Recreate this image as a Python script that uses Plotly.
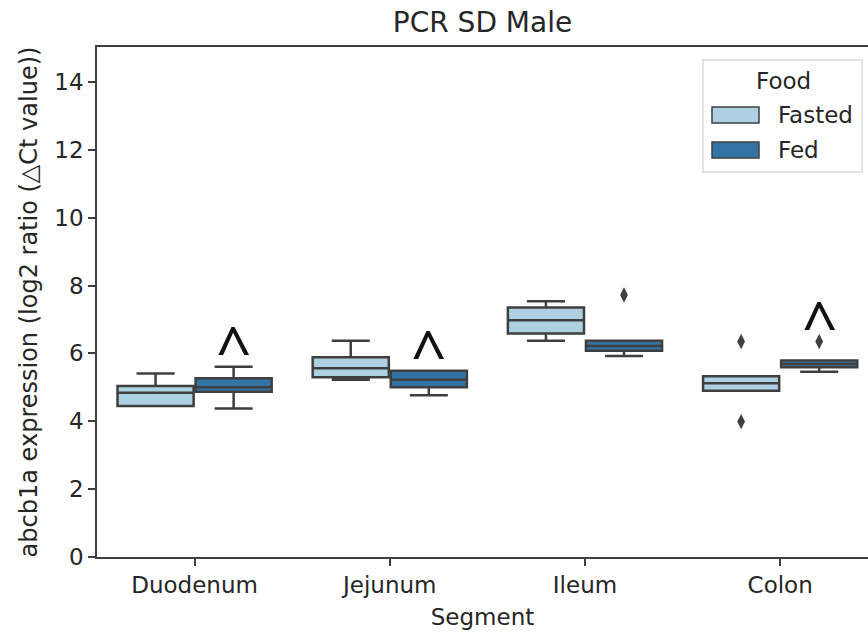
import plotly.graph_objects as go

# Intestinal segments on the x axis and the two feeding states
segments = ["Duodenum", "Jejunum", "Ileum", "Colon"]
food_groups = ["Fasted", "Fed"]

# Box statistics (abcb1a ΔCt, log2 ratio) per segment
fasted_lowerfence = [4.45, 5.22, 6.37, 4.90]
fasted_q1 = [4.45, 5.30, 6.59, 4.90]
fasted_median = [4.84, 5.56, 6.98, 5.12]
fasted_q3 = [5.04, 5.89, 7.35, 5.33]
fasted_upperfence = [5.41, 6.37, 7.54, 5.33]

fed_lowerfence = [4.38, 4.77, 5.92, 5.46]
fed_q1 = [4.87, 5.00, 6.08, 5.59]
fed_median = [5.00, 5.22, 6.22, 5.69]
fed_q3 = [5.27, 5.49, 6.37, 5.79]
fed_upperfence = [5.61, 5.49, 6.37, 5.79]

# Points beyond the whiskers
fasted_outlier_segment = ["Colon", "Colon"]
fasted_outlier_value = [6.35, 3.99]
fed_outlier_segment = ["Ileum", "Colon"]
fed_outlier_value = [7.72, 6.35]

# Fed groups flagged with a caret
flagged_segments = ["Duodenum", "Jejunum", "Colon"]
flag_symbol = "^"

y_ticks = [0, 2, 4, 6, 8, 10, 12, 14]

fill_colors = {"Fasted": "#aed0e3", "Fed": "#3274a3"}
group_offset = {"Fasted": -0.2, "Fed": 0.2}
line_color = "#3f3f3f"
text_color = "#262626"

stats = {
    "Fasted": (fasted_lowerfence, fasted_q1, fasted_median, fasted_q3, fasted_upperfence),
    "Fed": (fed_lowerfence, fed_q1, fed_median, fed_q3, fed_upperfence),
}
outliers = {
    "Fasted": (fasted_outlier_segment, fasted_outlier_value),
    "Fed": (fed_outlier_segment, fed_outlier_value),
}

fig = go.Figure()

for group in food_groups:
    lo, q1, med, q3, hi = stats[group]
    xs = [i + group_offset[group] for i in range(len(segments))]
    fig.add_trace(go.Box(
        name=group,
        x=xs,
        lowerfence=lo, q1=q1, median=med, q3=q3, upperfence=hi,
        width=0.39,
        whiskerwidth=0.5,
        fillcolor=fill_colors[group],
        line=dict(color=line_color, width=2.5),
        boxpoints=False,
        hoverinfo="skip",
        showlegend=False,
    ))

for group in food_groups:
    seg, val = outliers[group]
    fig.add_trace(go.Scatter(
        x=[segments.index(s) + group_offset[group] for s in seg],
        y=val,
        mode="markers",
        marker=dict(symbol="diamond-tall", size=11, color=line_color),
        showlegend=False,
        hoverinfo="skip",
    ))

# Caret above the top of each flagged Fed group
for s in flagged_segments:
    i = segments.index(s)
    top = max([fed_upperfence[i]] + [v for g, v in zip(fed_outlier_segment, fed_outlier_value) if g == s])
    fig.add_annotation(
        x=i + group_offset["Fed"], y=top + 0.55,
        text=flag_symbol, showarrow=False,
        font=dict(family="Noto Sans", size=62, color="#111111"),
        xanchor="center", yanchor="middle",
    )

# Legend drawn in pixel-aligned paper coordinates
W, H = 868, 633
L, R, T, B = 97, 0, 47, 76
pw, ph = W - L - R, H - T - B


def px(xp):
    return (xp - L) / pw


def py(yp):
    return (H - B - yp) / ph


fig.add_shape(type="rect", xref="paper", yref="paper",
              x0=px(703), x1=px(862), y0=py(172), y1=py(60),
              line=dict(color="#dadada", width=1.5), fillcolor="rgba(255,255,255,0.8)", layer="above")
fig.add_annotation(xref="paper", yref="paper", x=px(783), y=py(81), text="Food", showarrow=False,
                   xanchor="center", yanchor="middle", font=dict(size=23, color=text_color))
for k, group in enumerate(food_groups):
    yc = 115 + 35 * k
    fig.add_shape(type="rect", xref="paper", yref="paper",
                  x0=px(712), x1=px(759), y0=py(yc + 8), y1=py(yc - 8),
                  line=dict(color=line_color, width=1.5), fillcolor=fill_colors[group], layer="above")
    fig.add_annotation(xref="paper", yref="paper", x=px(776), y=py(yc), text=group, showarrow=False,
                       xanchor="left", yanchor="middle", font=dict(size=23, color=text_color))

fig.update_layout(
    width=W, height=H,
    margin=dict(l=L, r=R, t=T, b=B),
    plot_bgcolor="white", paper_bgcolor="white",
    font=dict(family="DejaVu Sans", size=23, color=text_color),
    boxmode="overlay",
    showlegend=False,
    title=dict(text="PCR SD Male", x=0.5, xref="paper", xanchor="center",
               y=1 - 22 / 633, yanchor="middle",
               font=dict(size=28, color=text_color)),
    xaxis=dict(
        range=[-0.5, 3.45],
        tickmode="array", tickvals=list(range(len(segments))), ticktext=segments,
        ticks="outside", ticklen=7, tickwidth=1.5, tickcolor=line_color,
        tickfont=dict(size=23),
        showline=True, linecolor=line_color, linewidth=1.5, mirror=True,
        showgrid=False, zeroline=False,
        title=dict(text="Segment", standoff=12, font=dict(size=23)),
    ),
    yaxis=dict(
        range=[0, 15.03],
        tickmode="array", tickvals=y_ticks,
        ticks="outside", ticklen=7, tickwidth=1.5, tickcolor=line_color,
        tickfont=dict(size=23),
        showline=True, linecolor=line_color, linewidth=1.5,
        showgrid=False, zeroline=False,
        title=dict(text="abcb1a expression (log2 ratio (△Ct value))", standoff=10, font=dict(size=24)),
    ),
)

fig.write_html("out.html")
